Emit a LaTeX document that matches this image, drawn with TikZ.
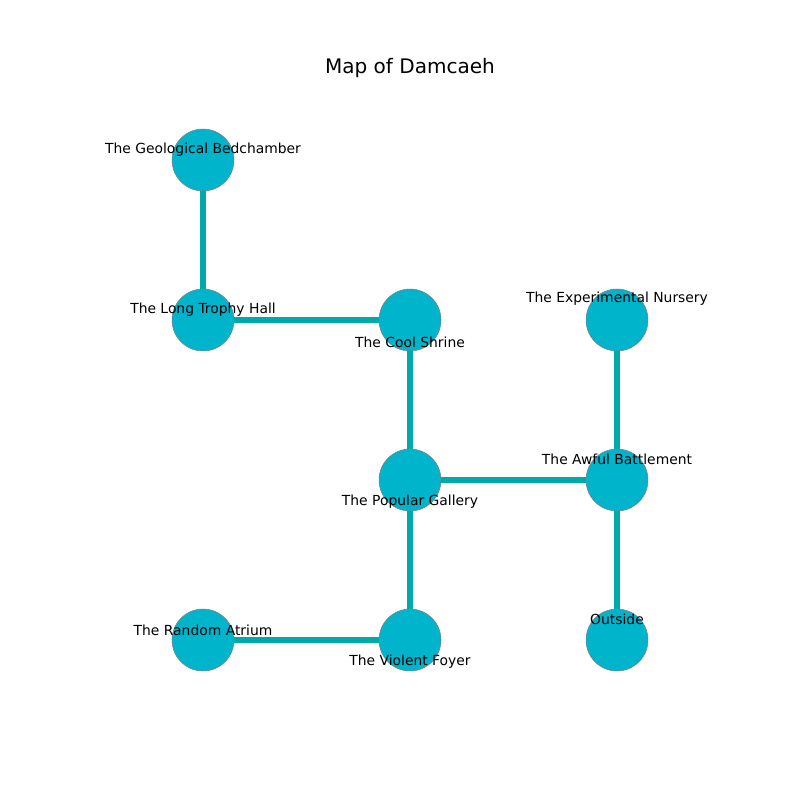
\documentclass[tikz,border=0pt]{standalone}
\usepackage{fontspec}
\setmainfont{DejaVu Sans}
\definecolor{roomfill}{HTML}{00B4CC}
\definecolor{pathcol}{HTML}{00AAAA}
\begin{document}
\begin{tikzpicture}[x=0.02cm, y=-0.02cm]
    % Styles
    \tikzstyle{room} = [circle, draw=gray, line width=0.3pt, fill=roomfill, minimum size=1.24cm, inner sep=0pt]
    \tikzstyle{lbl} = [font=\fontsize{7.9}{9}\selectfont, text=black, inner sep=0pt]
    \tikzstyle{path} = [draw=pathcol, line width=3.1pt]

    \useasboundingbox (0,0) rectangle (800,800);
    \node[font=\fontsize{11.4}{13}\selectfont] (title) at (410,68) {Map of Damcaeh};

    % Rooms
    \node[room, label={[lbl, yshift=0.20cm]center:The Geological Bedchamber}] (bedchamber) at (203,160) {};
    \node[room, label={[lbl, yshift=0.20cm]center:The Long Trophy Hall}] (trophyhall) at (203,320) {};
    \node[room, label={[lbl, yshift=-0.44cm]center:The Cool Shrine}] (shrine) at (410,320) {};
    \node[room, label={[lbl, yshift=0.42cm]center:The Experimental Nursery}] (nursery) at (617,320) {};
    \node[room, label={[lbl, yshift=-0.44cm]center:The Popular Gallery}] (gallery) at (410,480) {};
    \node[room, label={[lbl, yshift=0.42cm]center:The Awful Battlement}] (battlement) at (617,480) {};
    \node[room, label={[lbl, yshift=0.20cm]center:The Random Atrium}] (atrium) at (203,640) {};
    \node[room, label={[lbl, yshift=-0.44cm]center:The Violent Foyer}] (foyer) at (410,640) {};
    \node[room, label={[lbl, yshift=0.42cm]center:Outside}] (outside) at (617,640) {};

    % Paths
    \draw[path] (bedchamber) -- (trophyhall);
    \draw[path] (trophyhall) -- (shrine);
    \draw[path] (shrine) -- (gallery);
    \draw[path] (gallery) -- (battlement);
    \draw[path] (nursery) -- (battlement);
    \draw[path] (battlement) -- (outside);
    \draw[path] (gallery) -- (foyer);
    \draw[path] (atrium) -- (foyer);
\end{tikzpicture}
\end{document}
